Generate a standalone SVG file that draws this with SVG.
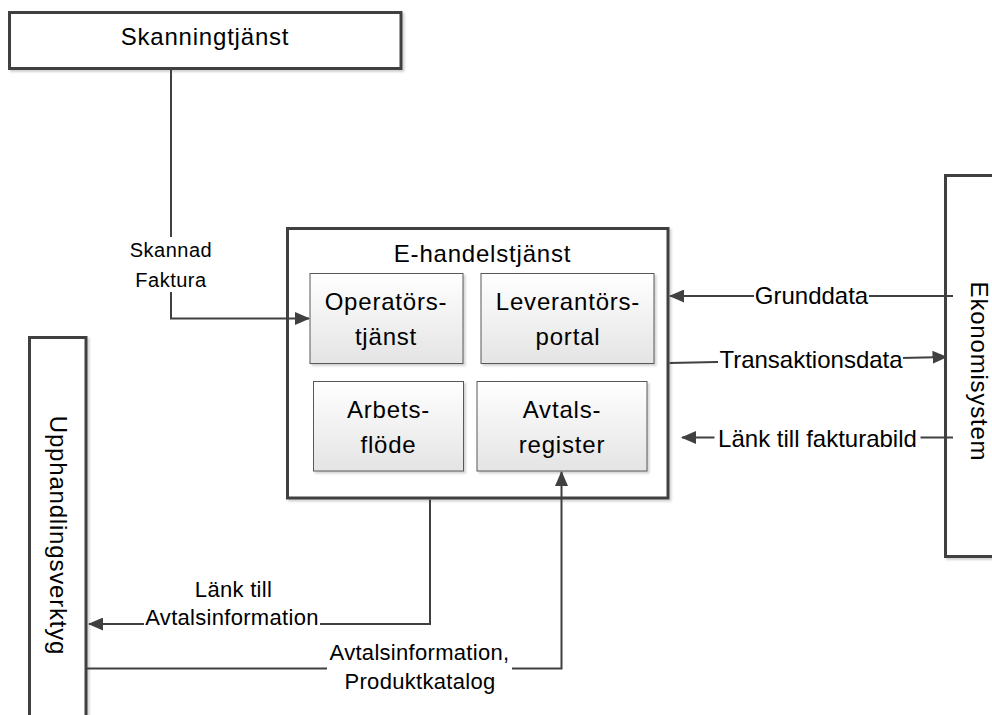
<svg xmlns="http://www.w3.org/2000/svg" width="992" height="715" viewBox="0 0 992 715">
  <style>
    .box { fill: #ffffff; stroke: #404040; stroke-width: 3; filter: url(#shadow); }
    .sub { fill: url(#subFill); stroke: #595959; stroke-width: 1; filter: url(#shadow); }
    .wire { fill: none; stroke: #404040; stroke-width: 2; }
    .arrow { marker-end: url(#head); }
    .mask { fill: #ffffff; stroke: none; }
    text { font-family: "Liberation Sans", Arial, sans-serif; fill: #000000; text-anchor: middle; }
    .big { font-size: 24px; letter-spacing: 0.8px; }
    .lbl { font-size: 24px; }
    .mid { font-size: 22px; letter-spacing: 0.3px; }
    .small { font-size: 20px; letter-spacing: 0.5px; }
  </style>
  <defs>
    <linearGradient id="subFill" x1="0" y1="0" x2="0" y2="1">
      <stop offset="0" stop-color="#ffffff"/>
      <stop offset="1" stop-color="#e4e4e4"/>
    </linearGradient>
    <filter id="shadow" x="-5%" y="-5%" width="115%" height="115%">
      <feDropShadow dx="2" dy="2" stdDeviation="1" flood-color="#000000" flood-opacity="0.18"/>
    </filter>
    <marker id="head" viewBox="0 0 15 13" refX="14" refY="6.5" markerWidth="15" markerHeight="13" markerUnits="userSpaceOnUse" orient="auto">
      <path d="M0,0 L15,6.5 L0,13 Z" fill="#404040"/>
    </marker>
  </defs>

  <rect width="992" height="715" fill="#ffffff"/>

  <!-- scanning service -->
  <g id="skanningtjanst">
    <rect class="box" x="9.5" y="12.5" width="391.5" height="56"/>
    <text class="big" x="205" y="45">Skanningtjänst</text>
  </g>

  <!-- e-commerce service with its four parts -->
  <g id="e-handelstjanst">
    <rect class="box" x="287.5" y="228.5" width="380.5" height="269.5"/>
    <text class="big" x="482.5" y="261.5">E-handelstjänst</text>
  </g>
  <g id="operatorstjanst">
    <rect class="sub" x="310" y="273.5" width="153" height="90"/>
    <text class="big" x="386" y="309.5">Operatörs-</text>
    <text class="big" x="386" y="344.5">tjänst</text>
  </g>
  <g id="leverantorsportal">
    <rect class="sub" x="481" y="273.5" width="173" height="90"/>
    <text class="big" x="568" y="309.5">Leverantörs-</text>
    <text class="big" x="568" y="344.5">portal</text>
  </g>
  <g id="arbetsflode">
    <rect class="sub" x="313.5" y="381.5" width="150" height="89.5"/>
    <text class="big" x="388.5" y="418">Arbets-</text>
    <text class="big" x="388.5" y="453">flöde</text>
  </g>
  <g id="avtalsregister">
    <rect class="sub" x="477" y="381.5" width="170" height="89.5"/>
    <text class="big" x="562" y="418">Avtals-</text>
    <text class="big" x="562" y="453">register</text>
  </g>

  <!-- finance system, right edge runs off the sheet -->
  <g id="ekonomisystem">
    <rect class="box" x="945.5" y="175.5" width="57" height="381"/>
    <text class="big" transform="translate(971,371.5) rotate(90)" x="0" y="0">Ekonomisystem</text>
  </g>

  <!-- procurement tool, bottom edge runs off the sheet -->
  <g id="upphandlingsverktyg">
    <rect class="box" x="29.5" y="337.5" width="56.5" height="420"/>
    <text class="big" transform="translate(50,535.5) rotate(90)" x="0" y="0">Upphandlingsverktyg</text>
  </g>

  <!-- data flows -->
  <g id="connectors">
    <path class="wire arrow" d="M171,70 V318.5 H309"/>
    <path class="wire arrow" d="M953,296 H670"/>
    <path class="wire arrow" d="M669.5,363 L946.5,357"/>
    <path class="wire arrow" d="M953,437.5 H682"/>
    <path class="wire arrow" d="M430,499.5 V624 H89"/>
    <path class="wire arrow" d="M87,668.5 H561.5 V472"/>

    <rect class="mask" x="127" y="237" width="88" height="55"/>
    <text class="small" x="171" y="257.3">Skannad</text>
    <text class="small" x="171" y="286.7">Faktura</text>

    <rect class="mask" x="754" y="282" width="115" height="27"/>
    <text class="lbl" x="811.5" y="303.5">Grunddata</text>

    <rect class="mask" x="718" y="346" width="185" height="27"/>
    <text class="lbl" x="811" y="368">Transaktionsdata</text>

    <rect class="mask" x="714.5" y="425" width="206" height="27"/>
    <text class="lbl" x="817.5" y="446.5">Länk till fakturabild</text>

    <rect class="mask" x="144" y="604" width="176" height="25"/>
    <text class="mid" x="233.5" y="597.3">Länk till</text>
    <text class="mid" x="232" y="624.5">Avtalsinformation</text>

    <rect class="mask" x="327" y="642" width="185" height="52"/>
    <text class="mid" x="419.5" y="660">Avtalsinformation,</text>
    <text class="mid" x="420" y="689">Produktkatalog</text>
  </g>
</svg>
